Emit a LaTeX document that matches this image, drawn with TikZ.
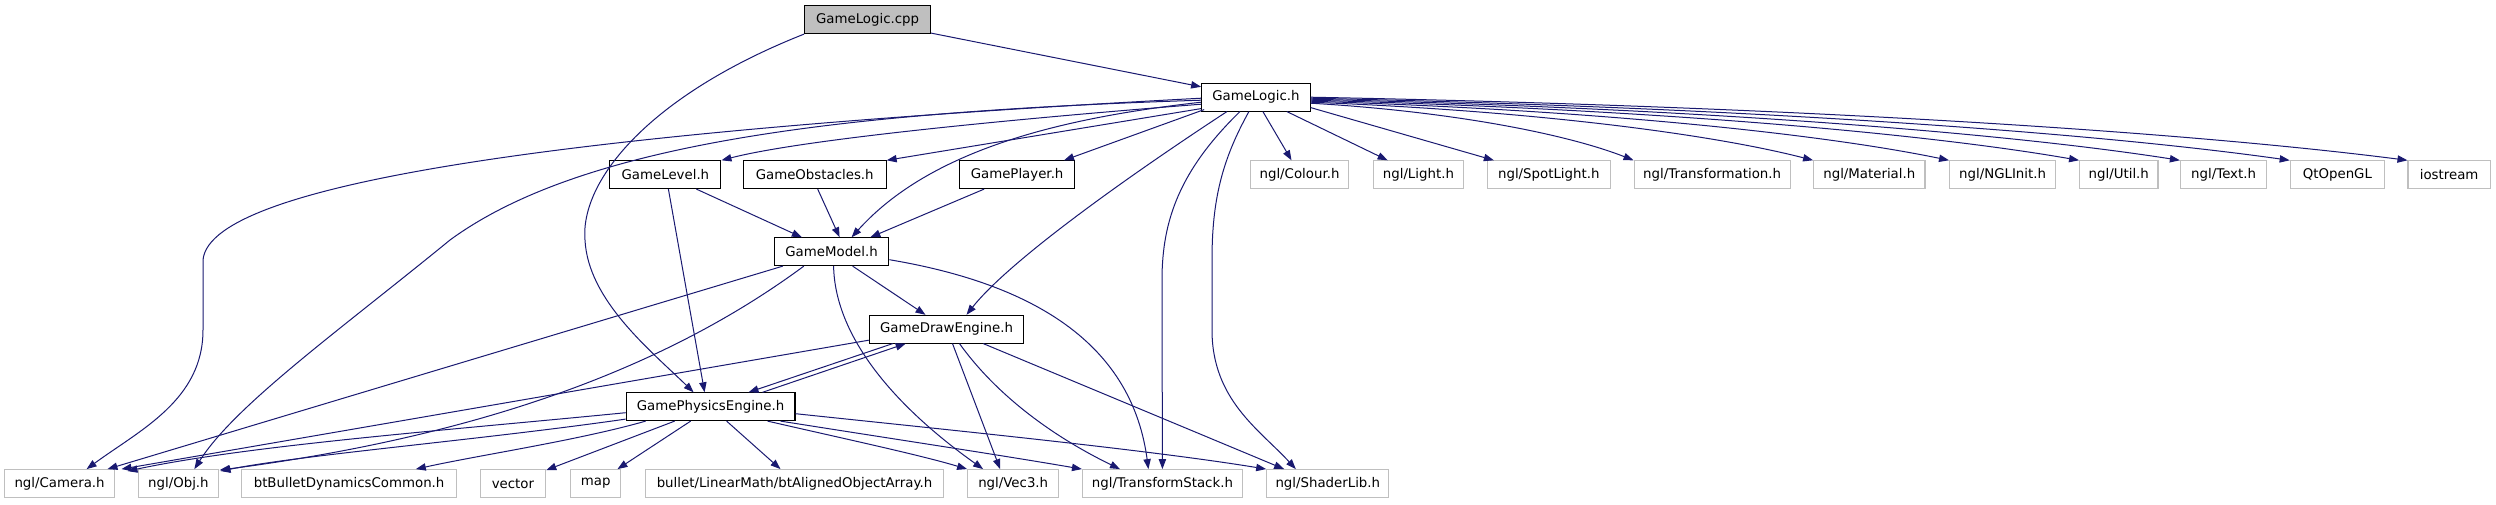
\documentclass[tikz,border=0pt]{standalone}
\usepackage{fontspec}
\setmainfont{DejaVu Sans}
\usetikzlibrary{arrows.meta,calc}
\definecolor{edgecol}{HTML}{191970}
\definecolor{grayb}{HTML}{BFBFBF}
\newcommand{\nd}[6]{\node[#1, minimum width=#5*0.75pt] (#2) at (#3,#4) {#6};}
\begin{document}
\begin{tikzpicture}[x=0.75pt,y=-0.75pt,
  box/.style={draw=black, line width=0.8pt, minimum height=20.8pt, inner sep=0pt, font=\fontsize{10pt}{12pt}\selectfont, text=black},
  ext/.style={box, draw=grayb},
  e/.style={draw=edgecol, line width=0.75pt, -{Triangle[length=7.5pt,width=5.5pt]}}]
\useasboundingbox (0,0) rectangle (2496,504);
% nodes
\nd{box, fill=grayb}{cpp}{867.6}{19.7}{126}{GameLogic.cpp}
\nd{box}{GL}{1255.9}{97.2}{108.5}{GameLogic.h}
\nd{box}{Lev}{665.4}{174.7}{111.1}{GameLevel.h}
\nd{box}{Obs}{814.7}{174.7}{142.9}{GameObstacles.h}
\nd{box}{Ply}{1017.1}{174.7}{114.8}{GamePlayer.h}
\nd{ext}{Col}{1299.5}{174.7}{98.4}{ngl/Colour.h}
\nd{ext}{Lig}{1418.4}{174.7}{90.5}{ngl/Light.h}
\nd{ext}{Spot}{1548.8}{174.7}{122.8}{ngl/SpotLight.h}
\nd{ext}{Tra}{1712.1}{174.7}{156.1}{ngl/Transformation.h}
\nd{ext}{Mat}{1869.3}{174.7}{111.4}{ngl/Material.h}
\nd{ext}{Nin}{2002.6}{174.7}{106.1}{ngl/NGLInit.h}
\nd{ext}{Uti}{2118.8}{174.7}{78.4}{ngl/Util.h}
\nd{ext}{Txt}{2223.6}{174.7}{86.4}{ngl/Text.h}
\nd{ext}{Qt}{2337.4}{174.7}{94.4}{QtOpenGL}
\nd{ext}{Ios}{2449.1}{174.7}{82.2}{iostream}
\nd{box}{GM}{831.6}{251.7}{114.4}{GameModel.h}
\nd{box}{GDE}{946.5}{329.2}{154.5}{GameDrawEngine.h}
\nd{box}{GPE}{710.6}{406.7}{168.8}{GamePhysicsEngine.h}
\nd{ext}{Cam}{59.6}{483.5}{110.7}{ngl/Camera.h}
\nd{ext}{Obj}{178.4}{483.5}{79.3}{ngl/Obj.h}
\nd{ext}{btB}{349.1}{483.5}{214.4}{btBulletDynamicsCommon.h}
\nd{ext}{Vec}{512.9}{483.5}{65.7}{vector}
\nd{ext}{Map}{595.8}{483.5}{50.3}{map}
\nd{ext}{Bul}{794.5}{483.5}{298.6}{bullet/LinearMath/btAlignedObjectArray.h}
\nd{ext}{V3}{1013.2}{483.5}{91.1}{ngl/Vec3.h}
\nd{ext}{TS}{1162.4}{483.5}{159.8}{ngl/TransformStack.h}
\nd{ext}{SL}{1327.8}{483.5}{122.2}{ngl/ShaderLib.h}
% edges from GameLogic.cpp
\draw[e] ($(cpp.south east)+(0,-1)$) -- ($(GL.north west)+(0,4)$);
\draw[e] (cpp.south west) .. controls (650,95) and (580,180) .. (585,240)
  .. controls (588,300) and (650,350) .. ($(GPE.north)+(-17,0)$);
% edges from GameLogic.h
\draw[e] ($(GL.west)+(0,7)$) .. controls (1000,120) and (800,140) .. (Lev.north east);
\draw[e] ($(GL.south west)+(0,-3)$) -- (Obs.north east);
\draw[e] ($(GL.south west)+(3,-2)$) -- ($(Ply.north east)+(-11,0)$);
\draw[e] ($(GL.west)+(0,5)$) .. controls (1060,118) and (930,150) .. ($(GM.north)+(20,0)$);
\draw[e] ($(GL.south)+(-29,0)$) .. controls (1130,175) and (1010,260) .. ($(GDE.north)+(20,0)$);
\draw[e] ($(GL.west)+(0,1)$) .. controls (600,130) and (210,180) .. (203,260)
  -- (203,330) .. controls (203,400) and (140,430) .. ($(Cam.north)+(27,0)$);
\draw[e] ($(GL.west)+(0,3)$) .. controls (830,112) and (580,145) .. (450,240)
  .. controls (340,330) and (235,405) .. ($(Obj.north)+(16,0)$);
\draw[e] ($(GL.south)+(-16,0)$) .. controls (1180,170) and (1162,220) .. (1162,280) -- (TS.north);
\draw[e] ($(GL.south)+(-7,0)$) .. controls (1222,160) and (1212,200) .. (1212,260)
  -- (1212,330) .. controls (1212,400) and (1260,430) .. ($(SL.north)+(-32,0)$);
\draw[e] ($(GL.south)+(7,0)$) -- ($(Col.north)+(-8,0)$);
\draw[e] ($(GL.south)+(31,0)$) -- ($(Lig.north west)+(15,0)$);
\draw[e] ($(GL.south east)+(0,-4)$) -- ($(Spot.north west)+(7,0)$);
\draw[e] ($(GL.east)+(0,6)$) .. controls (1456,111.7) and (1569,134.9) .. (Tra.north west);
\draw[e] ($(GL.east)+(0,5)$) .. controls (1536.6,110.9) and (1713,134.5) .. (Mat.north west);
\draw[e] ($(GL.east)+(0,4)$) .. controls (1597.8,110) and (1821.6,134) .. (Nin.north west);
\draw[e] ($(GL.east)+(0,3)$) .. controls (1656.3,109.2) and (1925.7,133.6) .. (Uti.north west);
\draw[e] ($(GL.east)+(0,2)$) .. controls (1701.7,108.3) and (2006.3,133.1) .. (Txt.north west);
\draw[e] ($(GL.east)+(0,1)$) .. controls (1751,107.5) and (2094,132.7) .. (Qt.north west);
\draw[e] ($(GL.east)+(0,0)$) .. controls (1804,106.6) and (2188,132.2) .. (Ios.north west);
% GameLevel, GameObstacles, GamePlayer
\draw[e] ($(Lev.south)+(31,0)$) -- ($(GM.north west)+(28,0)$);
\draw[e] ($(Lev.south)+(3,0)$) -- ($(GPE.north)+(-6,0)$);
\draw[e] ($(Obs.south)+(3,0)$) -- ($(GM.north)+(8,0)$);
\draw[e] ($(Ply.south)+(-33,0)$) -- ($(GM.north east)+(-19,0)$);
% GameModel
\draw[e] ($(GM.south)+(21,0)$) -- ($(GDE.north)+(-21,0)$);
\draw[e] ($(GM.south west)+(9,0)$) -- ($(Cam.north east)+(-8,0)$);
\draw[e] ($(GM.south west)+(30,0)$) .. controls (650,380) and (450,440) .. ($(Obj.north east)+(1,1)$);
\draw[e] ($(GM.south)+(2,0)$) .. controls (835,340) and (900,410) .. ($(V3.north west)+(16,0)$);
\draw[e] ($(GM.east)+(0,8)$) .. controls (1010,280) and (1130,330) .. ($(TS.north)+(-14,0)$);
% GameDrawEngine
\draw[e] ($(GDE.south west)+(24,0)$) -- ($(GPE.north east)+(-47,0)$);
\draw[e] ($(GDE.west)+(0,11)$) -- ($(Cam.north east)+(6,0)$);
\draw[e] ($(GDE.south)+(6,0)$) -- ($(V3.north west)+(33,0)$);
\draw[e] ($(GDE.south)+(13,0)$) .. controls (1000,400) and (1060,440) .. ($(TS.north west)+(38,0)$);
\draw[e] ($(GDE.south east)+(-41,0)$) -- ($(SL.north west)+(18,0)$);
% GamePhysicsEngine
\draw[e] ($(GPE.north east)+(-33,0)$) -- ($(GDE.south west)+(37,0)$);
\draw[e] ($(GPE.west)+(0,6)$) .. controls (450,430) and (250,445) .. ($(Cam.north east)+(12,2)$);
\draw[e] ($(GPE.south west)+(0,-2)$) .. controls (480,440) and (300,455) .. ($(Obj.north east)+(2,2)$);
\draw[e] ($(GPE.south west)+(20,0)$) .. controls (580,440) and (480,455) .. ($(btB.north east)+(-41,0)$);
\draw[e] ($(GPE.south west)+(49,0)$) -- ($(Vec.north east)+(0,1)$);
\draw[e] ($(GPE.south west)+(65,0)$) -- ($(Map.north east)+(-4,0)$);
\draw[e] ($(GPE.south)+(16,0)$) -- ($(Bul.north)+(-14,0)$);
\draw[e] ($(GPE.south east)+(-28,0)$) .. controls (850,440) and (920,455) .. (V3.north west);
\draw[e] ($(GPE.south east)+(-15,0)$) .. controls (900,440) and (1000,455) .. (TS.north west);
\draw[e] ($(GPE.east)+(0,7)$) .. controls (950,430) and (1150,450) .. (SL.north west);
\end{tikzpicture}
\end{document}
